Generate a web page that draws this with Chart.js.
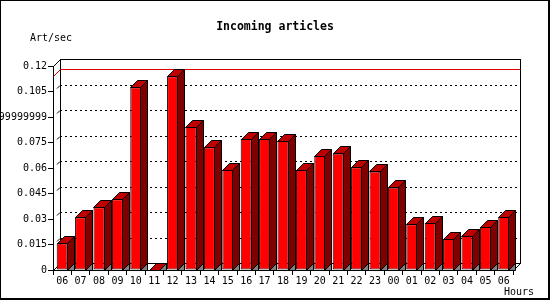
<!DOCTYPE html>
<html>
<head>
<meta charset="utf-8">
<script src="https://cdn.jsdelivr.net/npm/chart.js@4/dist/chart.umd.min.js"></script>
<style>
  body { margin: 0; background: #fff; }
  canvas { display: block; }
</style>
</head>
<body>
<canvas id="articlesChart" width="550" height="300"></canvas>
<script>
// hours of the day, starting at 06 and wrapping round to 06 again
const hours = ['06','07','08','09','10','11','12','13','14','15','16','17','18',
               '19','20','21','22','23','00','01','02','03','04','05','06'];
const artPerSec = [0.0157, 0.031, 0.0369, 0.0416, 0.1075, 0, 0.1139, 0.0841, 0.0722,
                   0.0588, 0.0771, 0.0771, 0.076, 0.0588, 0.067, 0.0686, 0.0604, 0.058,
                   0.0486, 0.0269, 0.0276, 0.0182, 0.02, 0.0253, 0.0312];
const yTicks = [0, 0.015, 0.03, 0.045, 0.06, 0.075, 0.09, 0.105, 0.12];
const yTickLabels = ['0', '0.015', '0.03', '0.045', '0.06', '0.075', '0.0899999999', '0.105', '0.12'];

const DEPTH = 7;
const monoFont = '"DejaVu Sans Mono", "Liberation Mono", monospace';

function line(ctx, x1, y1, x2, y2) {
  ctx.beginPath();
  ctx.moveTo(x1, y1);
  ctx.lineTo(x2, y2);
  ctx.stroke();
}

function poly(ctx, pts, fill) {
  ctx.beginPath();
  ctx.moveTo(pts[0][0], pts[0][1]);
  for (let i = 1; i < pts.length; i++) ctx.lineTo(pts[i][0], pts[i][1]);
  ctx.closePath();
  ctx.fillStyle = fill;
  ctx.fill();
  ctx.stroke();
}

// back wall, dashed grid and max line (behind the bars)
const backPlane = {
  id: 'backPlane',
  beforeDatasetsDraw(chart) {
    const { ctx, chartArea: a, scales: { y } } = chart;
    const L = a.left, R = a.right, B = a.bottom;
    const bt = Math.round(y.getPixelForValue(yTicks[yTicks.length - 1])) - DEPTH;
    ctx.save();
    ctx.lineWidth = 1;
    ctx.strokeStyle = '#000';

    ctx.setLineDash([2, 3]);
    for (let i = 1; i < yTicks.length - 1; i++) {
      const gy = Math.round(y.getPixelForValue(yTicks[i])) - DEPTH + 0.5;
      line(ctx, L + DEPTH, gy, R + DEPTH, gy);
    }
    ctx.setLineDash([]);
    for (let i = 1; i < yTicks.length - 1; i++) {
      const gy = Math.round(y.getPixelForValue(yTicks[i])) - DEPTH + 0.5;
      line(ctx, L + DEPTH - 3, gy + 3, L + DEPTH, gy);
    }

    // back box
    ctx.strokeRect(L + DEPTH + 0.5, bt + 0.5, R - L, B - DEPTH - bt);
    line(ctx, L + 0.5, bt + DEPTH + 0.5, L + DEPTH + 0.5, bt + 0.5);
    line(ctx, L + 0.5, B + 0.5, L + DEPTH + 0.5, B - DEPTH + 0.5);
    line(ctx, R + 0.5, B + 0.5, R + DEPTH + 0.5, B - DEPTH + 0.5);

    // max value line
    const maxVal = Math.max(...artPerSec);
    const my = Math.round(y.getPixelForValue(maxVal));
    ctx.strokeStyle = '#e00000';
    line(ctx, L + 0.5, my + 0.5, L + DEPTH + 0.5, my - DEPTH + 0.5);
    line(ctx, L + DEPTH + 0.5, my - DEPTH + 0.5, R + DEPTH + 0.5, my - DEPTH + 0.5);
    ctx.restore();
  }
};

// top and side faces of every bar
const bars3d = {
  id: 'bars3d',
  afterDatasetsDraw(chart) {
    const { ctx } = chart;
    const meta = chart.getDatasetMeta(0);
    ctx.save();
    ctx.lineWidth = 1;
    ctx.strokeStyle = '#000';
    meta.data.forEach(bar => {
      const l = Math.round(bar.x - bar.width / 2) + 0.5;
      const r = Math.round(bar.x + bar.width / 2) - 0.5;
      const t = Math.round(bar.y) + 0.5;
      const b = Math.round(bar.base) + 0.5;
      const d = DEPTH;
      poly(ctx, [[r, b], [r + d, b - d], [r + d, b]], '#808080');
      if (b - t > 0.5) {
        poly(ctx, [[r, t], [r + d, t - d], [r + d, b - d], [r, b]], '#800000');
      }
      poly(ctx, [[l, t], [l + d, t - d], [r + d, t - d], [r, t]], '#c00000');
    });
    ctx.restore();
  }
};

// title, axis titles and the picture frame
const labels = {
  id: 'labels',
  afterDraw(chart) {
    const { ctx, width, height } = chart;
    ctx.save();
    ctx.fillStyle = '#000';
    ctx.textBaseline = 'middle';
    ctx.textAlign = 'center';
    ctx.font = 'bold 11.5px ' + monoFont;
    ctx.fillText('Incoming articles', 275, 27);
    ctx.font = '10px ' + monoFont;
    ctx.textAlign = 'left';
    ctx.fillText('Art/sec', 30, 38);
    ctx.fillText('Hours', 504, 292);
    ctx.fillRect(0, 0, width, 1);
    ctx.fillRect(0, 0, 1, height);
    ctx.fillRect(width - 2, 0, 2, height);
    ctx.fillRect(0, height - 2, width, 2);
    ctx.restore();
  }
};

const ctx = document.getElementById('articlesChart').getContext('2d');
const chart = new Chart(ctx, {
  type: 'bar',
  data: {
    labels: hours,
    datasets: [{
      data: artPerSec,
      backgroundColor: '#ff0000',
      borderColor: '#000',
      borderWidth: 1,
      borderSkipped: false,
      barPercentage: 0.6,
      categoryPercentage: 1
    }]
  },
  options: {
    responsive: false,
    animation: false,
    layout: { padding: { top: 66, right: 37, left: 0, bottom: 0 } },
    plugins: { legend: { display: false }, tooltip: { enabled: false } },
    scales: {
      x: {
        afterFit: s => { s.height = 30; },
        border: { display: true, color: '#000' },
        grid: { drawOnChartArea: false, drawTicks: true, tickLength: 5, color: '#000', offset: true },
        ticks: { color: '#000', font: { family: monoFont, size: 10 }, padding: 0, maxRotation: 0, autoSkip: false }
      },
      y: {
        min: 0,
        max: 0.12,
        afterFit: s => { s.width = 53; },
        afterBuildTicks: s => { s.ticks = yTicks.map(v => ({ value: v })); },
        border: { display: true, color: '#000' },
        grid: { drawOnChartArea: false, drawTicks: true, tickLength: 5, color: '#000' },
        ticks: {
          color: '#000',
          font: { family: monoFont, size: 10 },
          padding: 1,
          callback: (v, i) => yTickLabels[i]
        }
      }
    }
  },
  plugins: [backPlane, bars3d, labels]
});
</script>
</body>
</html>
